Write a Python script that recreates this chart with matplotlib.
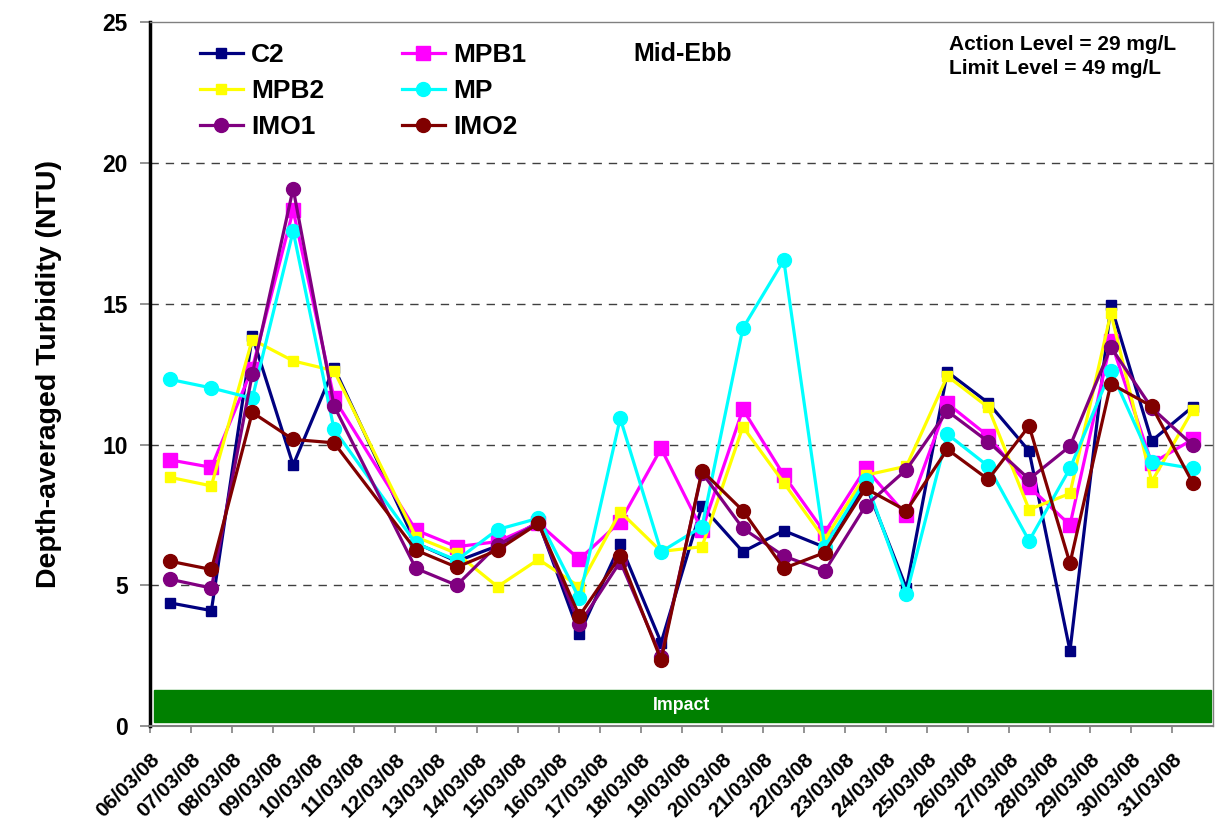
import matplotlib
matplotlib.use("Agg")
import matplotlib.pyplot as plt
from matplotlib.patches import Rectangle

plt.rcParams['font.family'] = ['Liberation Sans', 'DejaVu Sans']
plt.rcParams['font.weight'] = 'bold'

# x axis labels (one per day) and the days that have samples (11/03 missing)
day_labels = ['%02d/03/08' % d for d in range(6, 32)]
sample_days = ['06/03/08', '07/03/08', '08/03/08', '09/03/08', '10/03/08',
               '12/03/08', '13/03/08', '14/03/08', '15/03/08', '16/03/08',
               '17/03/08', '18/03/08', '19/03/08', '20/03/08', '21/03/08',
               '22/03/08', '23/03/08', '24/03/08', '25/03/08', '26/03/08',
               '27/03/08', '28/03/08', '29/03/08', '30/03/08', '31/03/08']

c2 = [4.37, 4.10, 13.85, 9.27, 12.73, 6.5, 5.85, 6.4, 7.25, 3.27, 6.45, 2.96, 7.81,
      6.19, 6.94, 6.35, 8.6, 4.89, 12.58, 11.48, 9.77, 2.67, 14.95, 10.13, 11.34]
mpb1 = [9.45, 9.19, 12.70, 18.32, 11.64, 6.96, 6.37, 6.55, 7.2, 5.92, 7.26, 9.86, 6.96,
        11.25, 8.91, 6.87, 9.15, 7.49, 11.46, 10.30, 8.50, 7.14, 13.67, 9.33, 10.18]
mpb2 = [8.83, 8.53, 13.73, 12.97, 12.62, 6.72, 6.13, 4.95, 5.92, 4.95, 7.61, 6.2, 6.37,
        10.63, 8.64, 6.63, 8.91, 9.23, 12.43, 11.32, 7.69, 8.26, 14.67, 8.68, 11.22]
mp = [12.31, 12.01, 11.64, 17.58, 10.54, 6.49, 5.89, 6.98, 7.38, 4.53, 10.93, 6.19, 7.08,
      14.13, 16.55, 6.37, 8.74, 4.68, 10.37, 9.23, 6.58, 9.15, 12.62, 9.39, 9.15]
imo1 = [5.21, 4.90, 12.5, 19.09, 11.37, 5.60, 5.0, 6.43, 7.2, 3.61, 5.84, 2.46, 9.0,
        7.02, 6.04, 5.50, 7.82, 9.11, 11.19, 10.10, 8.77, 9.94, 13.46, 11.3, 9.98]
imo2 = [5.85, 5.56, 11.14, 10.18, 10.06, 6.25, 5.64, 6.25, 7.2, 3.91, 6.04, 2.34, 9.07,
        7.65, 5.60, 6.16, 8.44, 7.65, 9.83, 8.76, 10.66, 5.78, 12.16, 11.36, 8.64]

# points sit in the middle of each day slot
x = [day_labels.index(d) + 0.5 for d in sample_days]

fig = plt.figure(figsize=(12.16, 8.25), dpi=100)
ax = fig.add_axes([0.1234, 0.12, 0.8742, 0.853])

styles = [
    ('C2', c2, '#000080', 's', 7.5),
    ('MPB1', mpb1, '#FF00FF', 's', 10),
    ('MPB2', mpb2, '#FFFF00', 's', 7.5),
    ('MP', mp, '#00FFFF', 'o', 10),
    ('IMO1', imo1, '#800080', 'o', 10),
    ('IMO2', imo2, '#800000', 'o', 10),
]
handles = {}
for name, vals, col, mk, ms in styles:
    h, = ax.plot(x, vals, color=col, marker=mk, markersize=ms, lw=2.3,
                 markeredgecolor=col, label=name)
    handles[name] = h

ax.set_xlim(0, len(day_labels))
ax.set_ylim(0, 25)
ax.set_yticks(range(0, 26, 5))
ax.set_xticks(range(len(day_labels)))
ax.set_xticklabels(day_labels, rotation=45, ha='right', va='top',
                   rotation_mode='anchor', fontsize=15, fontweight='bold')
ax.tick_params(axis='y', labelsize=16.5, length=7, color='#808080', width=1.2, pad=9)
ax.tick_params(axis='x', length=5, color='#808080', width=1.2, pad=12)

for v in range(5, 25, 5):
    ax.axhline(v, color='#404040', lw=1, ls=(0, (6, 5)), zorder=0)

ax.spines['left'].set_linewidth(2.5)
ax.spines['left'].set_color('black')
ax.spines['bottom'].set_color('#808080')
ax.spines['bottom'].set_linewidth(1.5)
for s in ('top', 'right'):
    ax.spines[s].set_color('#808080')
    ax.spines[s].set_linewidth(1)

ax.set_ylabel('Depth-averaged Turbidity (NTU)', fontsize=20.5, fontweight='bold', labelpad=29)

# impact period band
ax.add_patch(Rectangle((0.1, 0.15), len(day_labels) - 0.15, 1.13, color='#008000', zorder=1))
ax.text(len(day_labels) / 2, 0.72, 'Impact', color='white', fontsize=12.8,
        fontweight='bold', ha='center', va='center', zorder=2)

order = ['C2', 'MPB2', 'IMO1', 'MPB1', 'MP', 'IMO2']
ax.legend([handles[n] for n in order], order, loc='upper left', ncol=2, frameon=False,
          prop={'size': 19, 'weight': 'bold'}, handlelength=1.63, handletextpad=0.3,
          labelspacing=0.46, columnspacing=2.95, bbox_to_anchor=(0.0296, 0.997),
          borderaxespad=0.3)

ax.text(0.455, 0.955, 'Mid-Ebb', transform=ax.transAxes, fontsize=18,
        fontweight='bold', va='center')
ax.text(0.752, 0.968, 'Action Level = 29 mg/L', transform=ax.transAxes,
        fontsize=15, fontweight='bold', va='center')
ax.text(0.752, 0.935, 'Limit Level = 49 mg/L', transform=ax.transAxes,
        fontsize=15, fontweight='bold', va='center')

fig.savefig('out.png', dpi=100, facecolor='white')
